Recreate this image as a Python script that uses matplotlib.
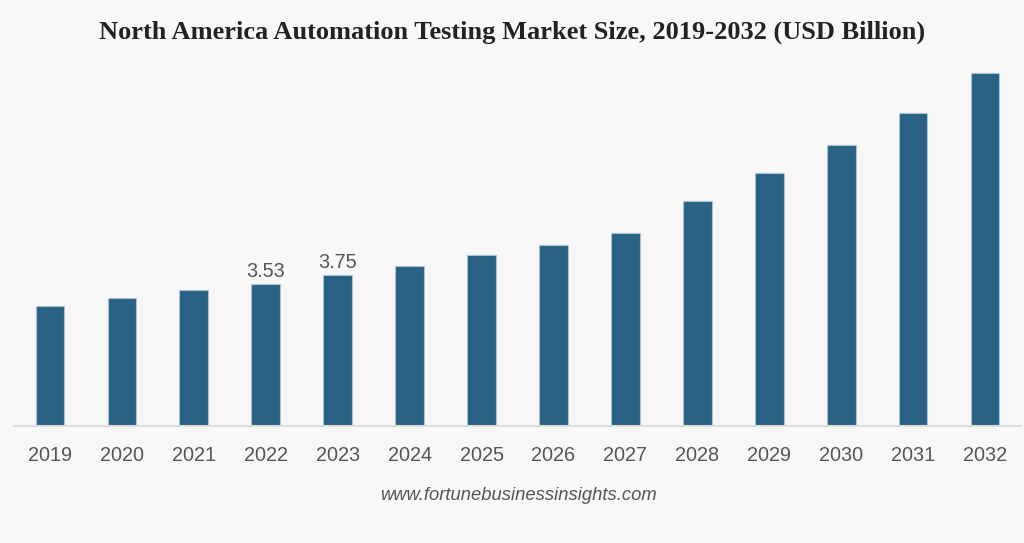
import matplotlib.pyplot as plt

years = ['2019', '2020', '2021', '2022', '2023', '2024', '2025',
         '2026', '2027', '2028', '2029', '2030', '2031', '2032']
values = [2.99, 3.19, 3.39, 3.53, 3.75, 3.99, 4.26,
          4.51, 4.80, 5.59, 6.29, 7.00, 7.80, 8.80]
labeled_years = ['2022', '2023']

bg = '#f8f8f8'
bar_color = '#2a6285'

fig = plt.figure(figsize=(10.24, 5.43), dpi=100, facecolor=bg)
ax = fig.add_axes([14 / 1024, 117 / 543, 1007 / 1024, 381.6 / 543])
ax.set_facecolor(bg)

x = list(range(len(years)))
bars = ax.bar(x, values, width=0.4, color=bar_color, edgecolor='#a9c4d6', linewidth=0.8, zorder=2)

for i, yr in enumerate(years):
    if yr in labeled_years:
        ax.text(i, values[i] + 0.08, f'{values[i]:.2f}', ha='center', va='bottom',
                fontsize=14.3, color='#555555', family='Liberation Sans')

ax.set_xlim(-0.5, len(years) - 0.5)
ax.set_ylim(0, 9.5)
ax.set_yticks([])
ax.set_xticks(x)
ax.set_xticklabels(years, fontsize=14.3, color='#555555', family='Liberation Sans')
ax.tick_params(axis='x', length=0, pad=14.5)

for s in ['top', 'right', 'left']:
    ax.spines[s].set_visible(False)
ax.spines['bottom'].set_color('#dddddd')
ax.spines['bottom'].set_linewidth(1.5)

fig.text(512 / 1024, 1 - 32 / 543, 'North America Automation Testing Market Size, 2019-2032 (USD Billion)',
         ha='center', va='center', fontsize=19, fontweight='bold', family='Liberation Serif', color='#222222')
fig.text(518 / 1024, 1 - 496 / 543, 'www.fortunebusinessinsights.com', ha='center', va='center',
         fontsize=13.2, style='italic', color='#555555', family='Liberation Sans')

fig.savefig('out.png', dpi=100, facecolor=bg)
